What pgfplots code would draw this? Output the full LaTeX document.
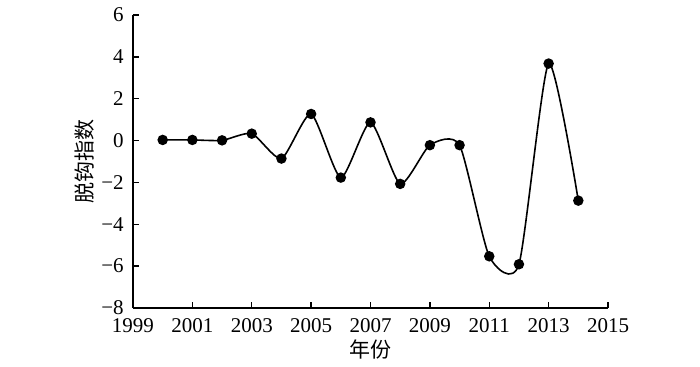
\documentclass[border=0pt]{standalone}
\usepackage{pgfplots}
\pgfplotsset{compat=1.18}
\usepackage{fontspec}
\setmainfont{Liberation Serif}
\newfontfamily\cjk{Noto Sans CJK SC}
\begin{document}
\fontsize{10.5pt}{12pt}\selectfont
\begin{tikzpicture}
\path (-66.5pt,-29pt) rectangle (283.5pt,154pt);
\begin{axis}[
  at={(0,0)}, anchor=south west,
  scale only axis, width=237.5pt, height=146.5pt,
  xmin=1999, xmax=2015, ymin=-8, ymax=6,
  axis lines=left, axis line style={-, line width=0.7pt},
  tick align=inside, major tick length=3pt,
  tick style={line width=0.7pt, black},
  xtick={1999,2001,2003,2005,2007,2009,2011,2013,2015},
  xticklabels={1999,2001,2003,2005,2007,2009,2011,2013,2015},
  ytick={-8,-6,-4,-2,0,2,4,6},
  yticklabels={−8,−6,−4,−2,0,2,4,6},
  ticklabel style={font=\fontsize{10.5pt}{12pt}\selectfont},
  xticklabel style={yshift=-1.5pt},
  yticklabel style={xshift=-1pt},
  every axis x label/.style={at={(axis description cs:0.5,-0.143)},anchor=center},
  every axis y label/.style={at={(axis description cs:-0.101,0.5)},rotate=90,anchor=center},
  xlabel={\cjk\fontsize{10.5pt}{12pt}\selectfont 年份},
  ylabel={\cjk\fontsize{10.5pt}{12pt}\selectfont 脱钩指数},
  clip=false,
]
\addplot[black, line width=0.8pt, smooth, tension=0.38, mark=*, mark size=2.2pt, mark options={solid, fill=black}] coordinates {
(2000,0.03) (2001,0.03) (2002,0.01) (2003,0.33) (2004,-0.86) (2005,1.27)
(2006,-1.77) (2007,0.87) (2008,-2.07) (2009,-0.22) (2010,-0.22)
(2011,-5.53) (2012,-5.91) (2013,3.68) (2014,-2.87)
};
\end{axis}
\end{tikzpicture}
\end{document}
